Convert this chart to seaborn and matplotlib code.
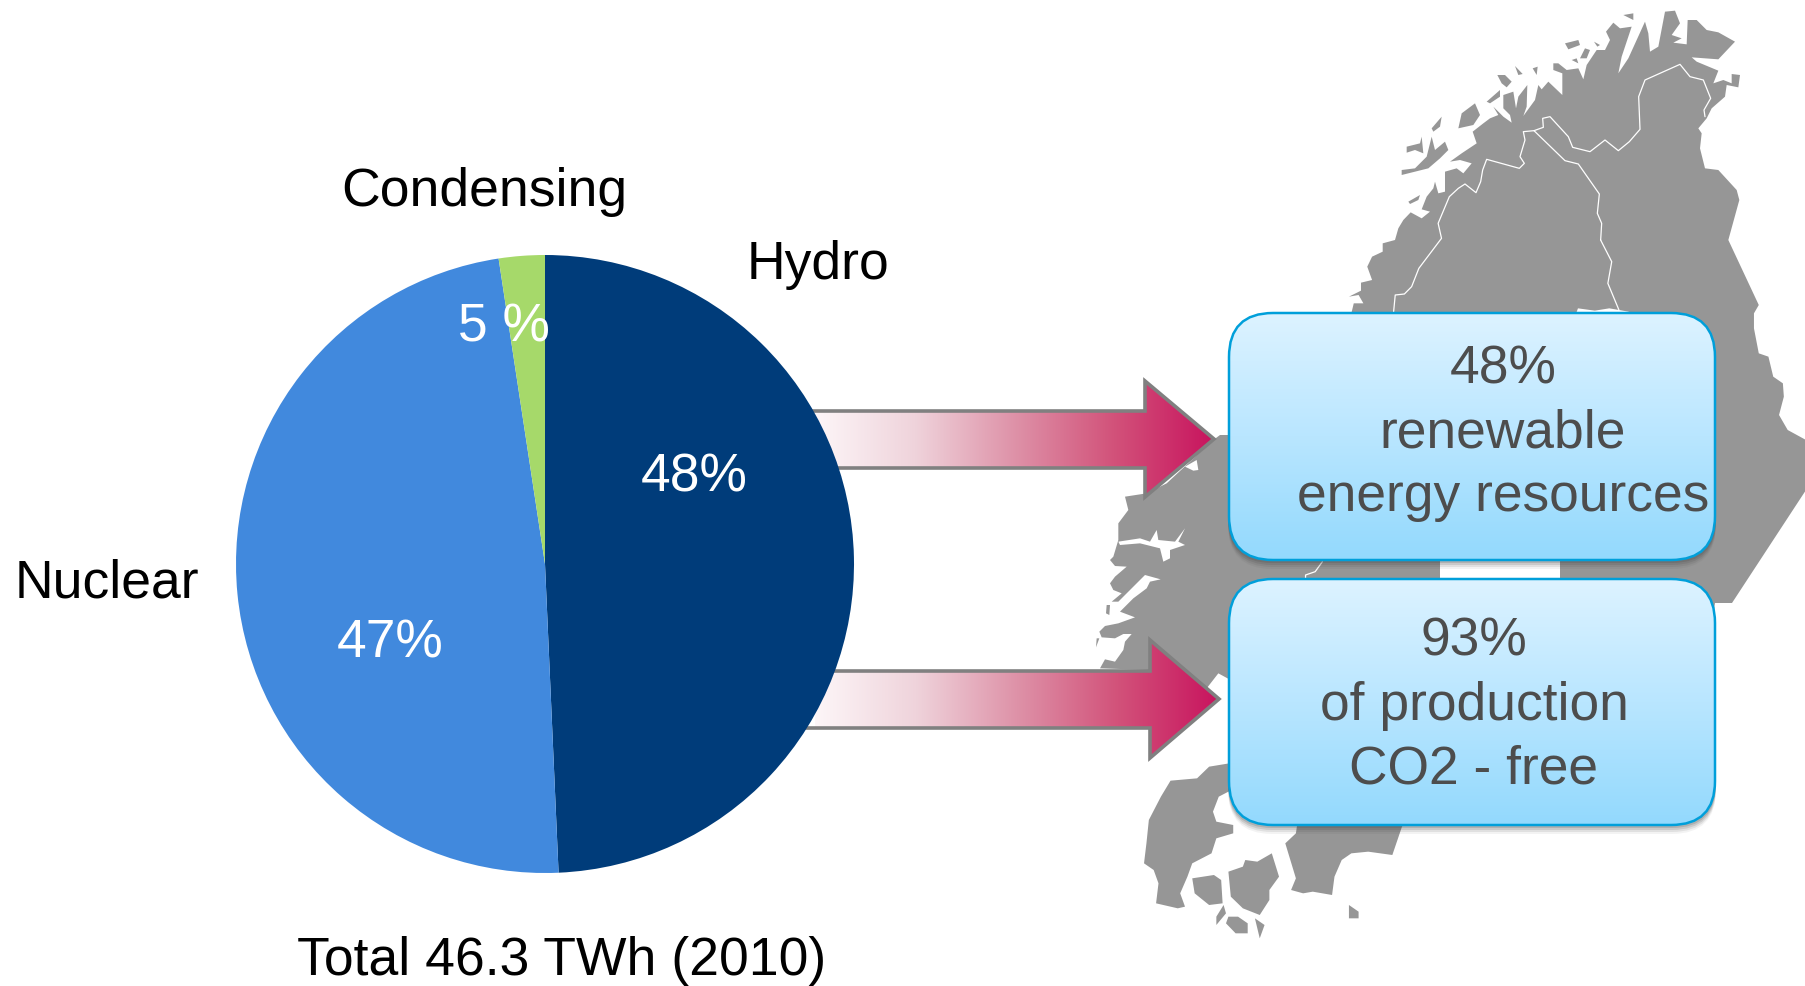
import numpy as np
import matplotlib
matplotlib.use("Agg")
import matplotlib.pyplot as plt
import seaborn as sns
from matplotlib.patches import FancyBboxPatch, Polygon

# pie values as drawn (the printed labels differ slightly from the slice sizes)
sources = ["Hydro", "Nuclear", "Condensing"]
shares = [49.3, 48.3, 2.4]
share_labels = ["48%", "47%", "5 %"]
pie_colors = ["#003C7A", "#4189DD", "#A6D96A"]
total_label = "Total 46.3 TWh (2010)"
box_top_lines = ["48%", "renewable", "energy resources"]
box_bottom_lines = ["93%", "of production", "CO2 - free"]

W, H = 1806, 986
MAP_GREY = "#969696"


def z1(pts):
    return [(1050 + x / 2.074, y / 3) for x, y in pts]


def z2(pts):
    return [(1050 + x / 2.074, 500 + y / 3) for x, y in pts]


def z3(pts):
    return [(780 + x / 3, 360 + y / 3) for x, y in pts]


def zn(pts):
    return [(1390 + x / 3, y / 3) for x, y in pts]


def zs(pts):
    return [(1090 + x / 3, 560 + y / 3) for x, y in pts]


north_coast = (
    z1([(625, 940), (630, 910), (650, 910), (640, 885), (620, 890), (645, 872), (645, 848),
        (668, 840), (658, 800), (668, 770), (690, 755), (690, 730)])
    + zn([(15, 720), (25, 685), (40, 660), (62, 637), (95, 655), (120, 635), (95, 628), (110, 590),
          (130, 565), (135, 545), (145, 580), (165, 575), (165, 515), (200, 505), (220, 520), (245, 490),
          (210, 480), (180, 485), (215, 460), (260, 430), (248, 395), (280, 370), (300, 355), (325, 345),
          (310, 320), (340, 350), (365, 368), (360, 345), (340, 325), (340, 285), (370, 275), (378, 325),
          (385, 290), (412, 255), (410, 320), (400, 348), (435, 300), (445, 255), (455, 268), (475, 245),
          (517, 285), (517, 220), (490, 210), (490, 190), (505, 190), (530, 210), (565, 205), (580, 238),
          (590, 195), (620, 150), (645, 150), (660, 120), (648, 95), (670, 68), (690, 85), (725, 80),
          (695, 170), (685, 220), (715, 175), (765, 65), (775, 100), (780, 155), (805, 140), (825, 35),
          (855, 32), (870, 70), (845, 105), (875, 115), (850, 128), (890, 133), (893, 60), (920, 60),
          (950, 90), (985, 97), (1035, 125), (985, 178), (905, 172), (920, 185), (985, 212), (970, 250),
          (1000, 240), (1025, 250), (1025, 222), (1050, 225), (1045, 262), (1010, 255), (1005, 290),
          (965, 325), (950, 355), (925, 385), (935, 400), (930, 445), (945, 505), (985, 510), (1040, 570),
          (1048, 600), (1015, 720)])
    + z1([(1470, 915), (1460, 940), (1460, 985), (1470, 1060), (1490, 1070), (1500, 1130), (1520, 1150),
          (1522, 1190), (1512, 1245), (1530, 1290), (1568, 1320)])
)
east_side = [(1806, 490), (1732, 603), (1715, 603), (1700, 700), (1300, 700)]
west_coast = (
    z3([(1348, 958), (1315, 940), (1280, 985), (1110, 930)])
    + zs([(30, 325), (45, 298), (75, 305), (100, 270), (105, 245), (125, 222), (100, 222), (75, 235),
          (35, 232), (28, 215), (45, 198), (85, 190), (135, 172), (90, 155), (130, 115), (170, 85),
          (180, 65), (212, 58), (165, 45), (120, 90), (85, 125), (65, 125), (95, 100), (70, 90),
          (60, 70), (75, 50), (110, 20), (75, 18), (60, 0)])
    + z3([(1000, 590), (1015, 540), (1015, 490), (1045, 450), (1035, 410), (1100, 400), (1160, 370),
          (1300, 240), (1320, 225), (1345, 225)])
)
main_land = north_coast + east_side + west_coast

map_pieces = [
    main_land,
    z2([(372, 790), (330, 800), (305, 835), (250, 842), (230, 890), (205, 960), (200, 1030), (195, 1090),
        (215, 1110), (225, 1150), (220, 1210), (265, 1225), (280, 1220), (270, 1180), (285, 1130),
        (295, 1090), (315, 1075), (335, 1060), (345, 1015), (380, 1000), (380, 975), (345, 965),
        (338, 935), (350, 890), (390, 860)]),
    z2([(760, 900), (730, 980), (710, 1065), (660, 1055), (625, 1060), (605, 1080), (590, 1130), (585, 1185),
        (545, 1175), (525, 1180), (500, 1170), (510, 1135), (488, 1030), (510, 1000), (520, 900)]),
    z2([(370, 1115), (400, 1100), (405, 1080), (430, 1085), (460, 1060), (475, 1130), (455, 1170),
        (455, 1200), (435, 1245), (400, 1225), (375, 1190)]),
    z2([(295, 1135), (340, 1125), (355, 1140), (358, 1210), (330, 1215), (300, 1180)]),
    z2([(370, 1250), (390, 1250), (410, 1270), (410, 1300), (385, 1300), (365, 1270)]),
    z2([(425, 1255), (445, 1275), (435, 1315), (430, 1285)]),
    z2([(620, 1215), (640, 1235), (640, 1255), (620, 1255)]),
    z2([(360, 1215), (365, 1240), (345, 1275), (345, 1250)]),
    zs([(50, 135), (60, 135), (58, 165), (48, 160)]),
    zs([(20, 235), (28, 235), (18, 262)]),
    zn([(35, 510), (75, 505), (110, 470), (125, 410), (135, 450), (165, 425), (175, 450), (150, 475),
        (115, 505), (75, 515), (35, 525)]),
    zn([(50, 440), (90, 430), (95, 410), (100, 460), (75, 450), (50, 458)]),
    zn([(125, 385), (155, 350), (150, 380), (130, 395)]),
    zn([(205, 385), (215, 340), (255, 310), (270, 345), (250, 375)]),
    zn([(290, 305), (330, 270), (330, 290), (300, 310)]),
    zn([(322, 225), (345, 225), (365, 245), (350, 262), (335, 250)]),
    zn([(375, 198), (398, 222), (385, 225)]),
    zn([(428, 205), (443, 200), (440, 225)]),
    zn([(525, 130), (565, 120), (570, 135), (535, 148)]),
    zn([(570, 175), (585, 145), (600, 150), (590, 175)]),
    zn([(545, 180), (560, 175), (565, 190)]),
    zn([(612, 125), (630, 135), (622, 140)]),
    zn([(700, 45), (730, 40), (730, 60)]),
    zn([(55, 605), (90, 585), (85, 600), (60, 612)]),
]

white_cuts = [
    z3([(1015, 545), (1080, 535), (1110, 545), (1130, 510), (1135, 540), (1185, 545), (1215, 505),
        (1195, 545), (1215, 555), (1170, 570), (1170, 595), (1150, 605), (1140, 565), (1080, 550),
        (1020, 555)]),
    z3([(1215, 320), (1250, 300), (1255, 330), (1240, 332)]),
    z1([(1090, 945), (1095, 925), (1130, 932), (1160, 925), (1200, 935), (1205, 945)]),
    [(1440, 555), (1560, 555), (1560, 585), (1440, 585)],
]

border_lines = [
    z1([(712, 945), (716, 885), (735, 882), (750, 860), (765, 805), (812, 715), (805, 670)])
    + zn([(178, 590), (205, 565), (225, 552), (258, 578), (272, 545), (278, 510), (290, 478), (388, 505),
          (403, 490), (390, 470), (405, 420), (400, 395), (432, 392), (460, 382), (458, 355), (480, 350),
          (535, 410), (548, 442), (600, 455), (645, 420), (685, 452), (718, 425), (750, 388), (746, 290),
          (765, 240), (870, 193), (900, 230), (940, 240), (962, 295), (942, 330), (945, 350)]),
    zn([(432, 392), (525, 482), (565, 492), (628, 582), (622, 640), (635, 670), (632, 720)])
    + z1([(1142, 720), (1165, 785), (1157, 850), (1180, 930)]),
    z2([(565, 185), (550, 215), (530, 225), (530, 240)]),
    z2([(755, 980), (740, 1040)]),
]

sns.set_theme(style="white")
plt.rcParams["font.family"] = ["Liberation Sans", "DejaVu Sans"]

fig = plt.figure(figsize=(W / 100, H / 100), dpi=100)
ax = fig.add_axes([0, 0, 1, 1], zorder=1)
ax.set_xlim(0, W)
ax.set_ylim(H, 0)
ax.axis("off")

# map
for piece in map_pieces:
    ax.add_patch(Polygon(piece, closed=True, fc=MAP_GREY, ec="none", zorder=1))
for cut in white_cuts:
    ax.add_patch(Polygon(cut, closed=True, fc="white", ec="none", zorder=1.1))
for line in border_lines:
    xs, ys = zip(*line)
    ax.plot(xs, ys, color="white", lw=0.9, zorder=1.2)

# gradient arrows
arrow_cmap = sns.blend_palette(["#FDF6F8", "#EFD3DB", "#DE92A8", "#D2527A", "#C8145E"], as_cmap=True)


def draw_arrow(x_head, x_tip, y_top, y_bot, y_head_top, y_head_bot):
    y_mid = (y_head_top + y_head_bot) / 2
    pts = [(800, y_top), (x_head, y_top), (x_head, y_head_top), (x_tip, y_mid),
           (x_head, y_head_bot), (x_head, y_bot), (800, y_bot)]
    patch = Polygon(pts, closed=True, fc="none", ec="#808080", lw=2.6, zorder=2.2, joinstyle="miter")
    ax.add_patch(patch)
    grad = np.linspace(0, 1, 256).reshape(1, -1)
    im = ax.imshow(grad, cmap=arrow_cmap, extent=(815, x_tip, y_head_bot, y_head_top),
                   aspect="auto", zorder=2.1)
    clip = Polygon(pts, closed=True, transform=ax.transData)
    im.set_clip_path(clip)


draw_arrow(1145, 1214, 411, 468, 381, 497)
draw_arrow(1150, 1219, 671, 728, 640, 758)

# rounded boxes with shadow and vertical gradient
box_cmap = sns.blend_palette(["#DDF3FF", "#B9E6FF", "#93D9FD"], as_cmap=True)


def draw_box(x0, y0, x1, y1, lines, text_x, text_ys):
    r = 44
    style = f"round,pad=0,rounding_size={r}"
    for off, alpha in [(9, 0.06), (7, 0.10), (5, 0.14), (3, 0.18)]:
        ax.add_patch(FancyBboxPatch((x0 - 1, y0 + off), x1 - x0 + 2, y1 - y0, boxstyle=style,
                                    fc="#404040", ec="none", alpha=alpha, zorder=3))
    grad = np.linspace(0, 1, 256).reshape(-1, 1)
    im = ax.imshow(grad, cmap=box_cmap, extent=(x0, x1, y1, y0), aspect="auto", zorder=3.1)
    frame = FancyBboxPatch((x0, y0), x1 - x0, y1 - y0, boxstyle=style, fc="none", ec="#009FDA",
                           lw=1.8, zorder=3.2)
    ax.add_patch(frame)
    im.set_clip_path(frame)
    for line, y in zip(lines, text_ys):
        ax.text(text_x, y, line, ha="center", va="center", fontsize=38.4, color="#4D4D4D", zorder=4)


draw_box(1229, 313, 1715, 560, box_top_lines, 1503, [369, 433, 497])
draw_box(1229, 579, 1715, 825, box_bottom_lines, 1474, [642, 706, 770])
ax.set_xlim(0, W)
ax.set_ylim(H, 0)

# outer labels
ax.text(484, 192, sources[2], ha="center", va="center", fontsize=38.5, color="black", zorder=5)
ax.text(818, 265, sources[0], ha="center", va="center", fontsize=38.5, color="black", zorder=5)
ax.text(107, 584, sources[1], ha="center", va="center", fontsize=38.5, color="black", zorder=5)
ax.text(562, 961, total_label, ha="center", va="center", fontsize=38.5, color="black", zorder=5)

# pie in its own axes, center (545, 564), radius 309 px
cx, cy, rad = 545, 564, 309
ax_pie = fig.add_axes([(cx - rad) / W, 1 - (cy + rad) / H, 2 * rad / W, 2 * rad / H], zorder=2)
ax_pie.pie(shares, colors=pie_colors, startangle=90, counterclock=False, radius=1,
           wedgeprops={"linewidth": 0})
ax_pie.set_xlim(-1, 1)
ax_pie.set_ylim(-1, 1)
ax_pie.patch.set_alpha(0)

for lab, (px, py) in zip(share_labels, [(694, 478), (390, 643), (504, 327)]):
    ax_pie.text((px - cx) / rad, (cy - py) / rad, lab, ha="center", va="center", fontsize=38.4, color="white")

fig.savefig("out.png", dpi=100)
